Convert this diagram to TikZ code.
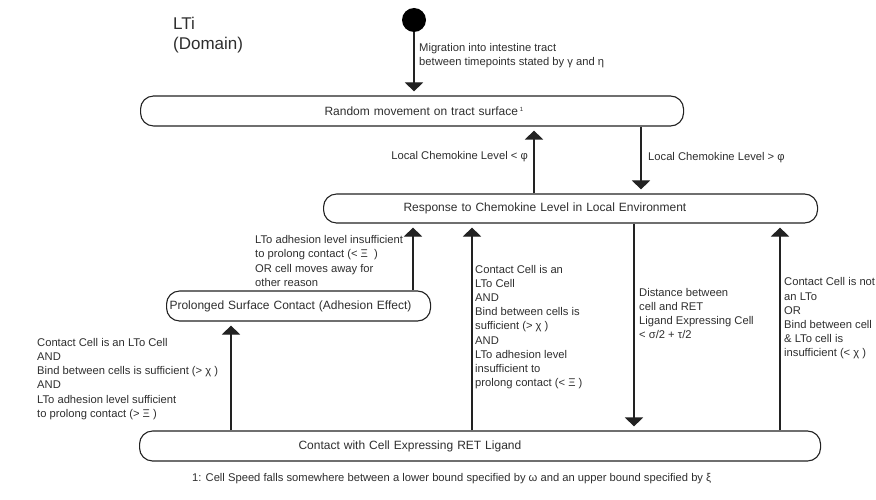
\documentclass[tikz,border=0pt]{standalone}
\usepackage{fontspec}
\setmainfont{Liberation Sans}
\usetikzlibrary{arrows.meta}
\definecolor{ink}{HTML}{222222}
\definecolor{txt}{HTML}{2E2E2E}
\tikzset{
  statebox/.style={draw=ink, line width=1.1pt, rounded corners=13pt, inner xsep=0pt, inner ysep=0pt,
    align=left, text=txt, font=\fontsize{12}{14}\selectfont, anchor=west},
  arr/.style={draw=ink, line width=1.1pt, -{Triangle[width=18pt,length=9pt]}, shorten >=4pt},
  lbl/.style={inner sep=0pt, align=left, text=txt, font=\fontsize{11.2}{14.2}\selectfont, anchor=west}
}
\begin{document}
\begin{tikzpicture}[x=1pt,y=-1pt]
\useasboundingbox (0,0) rectangle (876,500);
% title
\node[inner sep=0pt, align=left, text=txt, font=\fontsize{17}{20}\selectfont, anchor=west] (title) at (173,35) {LTi\\(Domain)};
% start
\node[circle, fill=black, minimum size=24pt, inner sep=0pt] (start) at (414,20) {};
% state boxes
\node[statebox, text width=543pt, minimum height=30pt] (rand) at (140,111) {\hspace*{184pt}Random movement on tract surface\,\raisebox{4pt}{\fontsize{6}{6}\selectfont 1}};
\node[statebox, text width=494pt, minimum height=29pt] (resp) at (323,208.5) {\hspace*{80pt}Response to Chemokine Level in Local Environment};
\node[statebox, text width=264pt, minimum height=30pt] (prol) at (166,306) {\hspace*{3pt}Prolonged Surface Contact (Adhesion Effect)};
\node[statebox, text width=681pt, minimum height=30pt] (cont) at (139,446) {\hspace*{159pt}Contact with Cell Expressing RET Ligand};
% x positions of connectors
\coordinate (xa) at (534,0);
\coordinate (xb) at (641,0);
\coordinate (xc) at (413,0);
\coordinate (xd) at (231,0);
\coordinate (xe) at (472,0);
\coordinate (xf) at (634,0);
\coordinate (xg) at (780,0);
% connectors
\draw[arr] (start.south) -- (start.south |- rand.north);
\draw[arr] (resp.north -| xa) -- (rand.south -| xa);
\draw[arr] (rand.south -| xb) -- (resp.north -| xb);
\draw[arr] (prol.north -| xc) -- (resp.south -| xc);
\draw[arr] (cont.north -| xd) -- (prol.south -| xd);
\draw[arr] (cont.north -| xe) -- (resp.south -| xe);
\draw[arr] (resp.south -| xf) -- (cont.north -| xf);
\draw[arr] (cont.north -| xg) -- (resp.south -| xg);
% labels
\node[lbl] (l0) at (419,55.5) {Migration into intestine tract\\between timepoints stated by γ and η};
\node[lbl, anchor=east] (l1) at (528,157) {Local Chemokine Level < φ};
\node[lbl] (l2) at (648,158) {Local Chemokine Level > φ};
\node[lbl] (l3) at (255,261) {LTo adhesion level insufficient\\to prolong contact (< Ξ \ )\\OR cell moves away for\\other reason};
\node[lbl] (l4) at (37,379) {Contact Cell is an LTo Cell\\AND\\Bind between cells is sufficient (> χ )\\AND\\LTo adhesion level sufficient\\to prolong contact (> Ξ )};
\node[lbl] (l5) at (475,327) {Contact Cell is an\\LTo Cell\\AND\\Bind between cells is\\sufficient (> χ )\\AND\\LTo adhesion level\\insufficient to\\prolong contact (< Ξ )};
\node[lbl] (l6) at (639,313.5) {Distance between\\cell and RET\\Ligand Expressing Cell\\< σ/2 + τ/2};
\node[lbl] (l7) at (784,318.5) {Contact Cell is not\\an LTo\\OR\\Bind between cell\\\& LTo cell is\\insufficient (< χ )};
% footnote
\node[lbl, font=\fontsize{11.2}{13}\selectfont] (fn) at (192,479) {1: Cell Speed falls somewhere between a lower bound specified by ω and an upper bound specified by ξ};
\end{tikzpicture}
\end{document}
